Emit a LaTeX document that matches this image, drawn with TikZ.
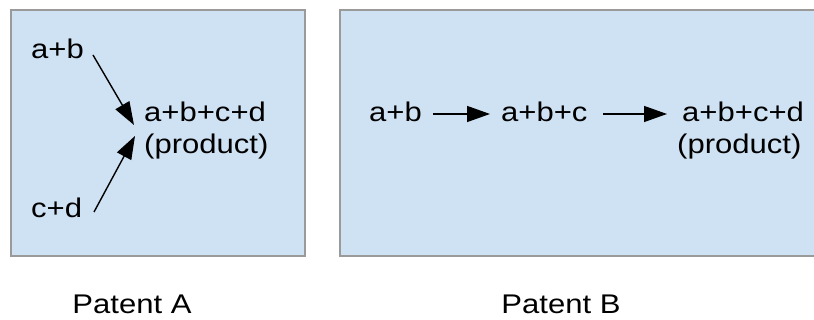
\documentclass[tikz,border=0pt]{standalone}
\usepackage{fontspec}
\setmainfont{Liberation Sans}[FakeStretch=1.15]
\usetikzlibrary{arrows.meta}
\definecolor{boxfill}{HTML}{CFE2F3}
\definecolor{boxline}{HTML}{9A9A9A}
\tikzset{
  panel/.style={draw=boxline, fill=boxfill, line width=1.2pt},
  lbl/.style={inner sep=0pt, anchor=base west, font=\fontsize{27}{30}\selectfont},
  captxt/.style={inner sep=0pt, anchor=base, font=\fontsize{27}{30}\selectfont},
  arr/.style={line width=1.4pt, -{Triangle[length=23pt,width=16pt]}}
}
\begin{document}
\begin{tikzpicture}[x=1pt,y=-1pt]
\useasboundingbox (0,0) rectangle (814,320);
\fill[white] (0,0) rectangle (814,320);
% panels
\draw[panel] (11,10) rectangle (305,256);
\draw[panel] (340,10) rectangle (830,256);
% Patent A
\node[lbl] (abL) at (31,59) {a+b};
\node[lbl] (cdL) at (31,218) {c+d};
\node[lbl] (sumL) at (144,122) {a+b+c+d};
\node[lbl] (prodL) at (144,154) {(product)};
\coordinate (s1) at (93,55);
\coordinate (t1) at (134,125);
\coordinate (s2) at (94,212);
\coordinate (t2) at (135,136);
\draw[arr] (s1) -- (t1);
\draw[arr] (s2) -- (t2);
% Patent B
\node[lbl] (abR) at (369,122) {a+b};
\node[lbl] (abcR) at (501,122) {a+b+c};
\node[lbl] (sumR) at (682,122) {a+b+c+d};
\node[lbl] (prodR) at (677,154) {(product)};
\coordinate (r1s) at (433,114);
\coordinate (r1t) at (490,114);
\coordinate (r2s) at (603,114);
\coordinate (r2t) at (667,114);
\draw[arr] (r1s) -- (r1t);
\draw[arr] (r2s) -- (r2t);
% captions
\node[captxt] (capA) at (132,314) {Patent A};
\node[captxt] (capB) at (561,314) {Patent B};
\end{tikzpicture}
\end{document}
